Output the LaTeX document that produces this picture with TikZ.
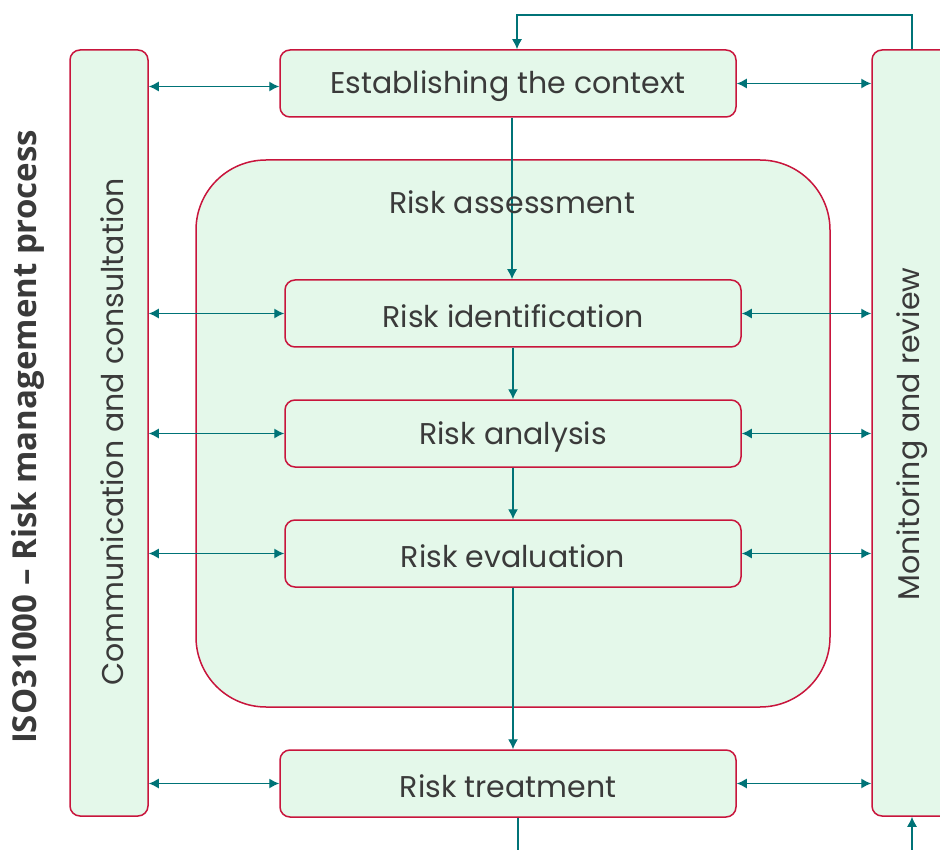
\documentclass[tikz,border=0pt]{standalone}
\usepackage{fontspec}
\setmainfont{Poppins}
\newfontfamily\titlefont{Open Sans}
\usetikzlibrary{arrows.meta,calc}
\definecolor{bord}{HTML}{C8153C}
\definecolor{fillg}{HTML}{E4F8EA}
\definecolor{conn}{HTML}{007377}
\definecolor{txt}{HTML}{3A3A3A}
\newcommand\lowr[1]{\raisebox{-3pt}[\height][\depth]{#1}}
\tikzset{
  box/.style={draw=bord, line width=1.5pt, fill=fillg, rounded corners=10pt, text=txt,
    inner sep=0pt, font=\fontsize{30}{34}\selectfont},
  stepbox/.style={box, minimum width=456pt, minimum height=67pt},
  sidebox/.style={box, minimum height=766pt},
  lbl/.style={text=txt, font=\fontsize{30}{34}\selectfont},
  arr/.style={draw=conn, line width=1.3pt, -{Latex[length=10pt,width=10pt]}},
  dbl/.style={draw=conn, line width=1.3pt, {Latex[length=10pt,width=10pt]}-{Latex[length=10pt,width=10pt]}},
  plain/.style={draw=conn, line width=1.3pt}
}
\begin{document}
\begin{tikzpicture}[x=1pt,y=-1pt]
\useasboundingbox (0,0) rectangle (940,850);
\fill[white] (0,0) rectangle (940,850);
\begin{scope}
\clip (0,0) rectangle (940,850);
% big risk assessment box
\node[box, rounded corners=70pt, minimum width=634pt, minimum height=547pt] (ra) at (513,433.5) {};
% side boxes
\node[sidebox, minimum width=78pt] (left) at (109,433) {};
\node[sidebox, minimum width=80pt] (right) at (912,433) {};
% step boxes
\node[stepbox] (est) at (508,83.5) {\lowr{Establishing the context}};
\node[stepbox] (id) at (513,313.5) {\lowr{Risk identification}};
\node[stepbox] (ana) at (513,433.5) {\lowr{Risk analysis}};
\node[stepbox] (eva) at (513,553.5) {\lowr{Risk evaluation}};
\node[stepbox] (trt) at (508,783.5) {\lowr{Risk treatment}};
% labels
\node[lbl, rotate=90] (lt) at (112,432) {Communication and consultation};
\node[lbl, rotate=90] (rt) at (912,434) {Monitoring and review};
\node[rotate=90, text=txt, font=\titlefont\bfseries\fontsize{33}{38}\selectfont] (title) at (28,437) {ISO31000 – Risk management process};
% vertical connectors
\draw[arr] ([xshift=4pt]est.south) -- ([xshift=4pt]est.south |- id.north);
\node[lbl] (ral) at (512,202) {Risk assessment};
\draw[arr] (id.south) -- (ana.north);
\draw[arr] (ana.south) -- (eva.north);
\draw[arr] (eva.south) -- (eva.south |- trt.north);
% top loop
\draw[arr] (right.north) -- (right.north |- 0,15) -| ([xshift=9pt]est.north);
% bottom free ends
\coordinate (b1) at (518,860);
\coordinate (b2) at (912,860);
\draw[plain] ([xshift=10pt]trt.south) -- (b1 -| 518,0);
\draw[arr] (b2) -- (right.south);
% left double arrows
\draw[dbl] ([yshift=-3pt]left.east |- est.west) -- ([yshift=-3pt]est.west);
\draw[dbl] (left.east |- id.west) -- (id.west);
\draw[dbl] (left.east |- ana.west) -- (ana.west);
\draw[dbl] (left.east |- eva.west) -- (eva.west);
\draw[dbl] (left.east |- trt.west) -- (trt.west);
% right double arrows
\draw[dbl] (est.east) -- (est.east -| right.west);
\draw[dbl] (id.east) -- (id.east -| right.west);
\draw[dbl] (ana.east) -- (ana.east -| right.west);
\draw[dbl] (eva.east) -- (eva.east -| right.west);
\draw[dbl] (trt.east) -- (trt.east -| right.west);
\end{scope}
\end{tikzpicture}
\end{document}
